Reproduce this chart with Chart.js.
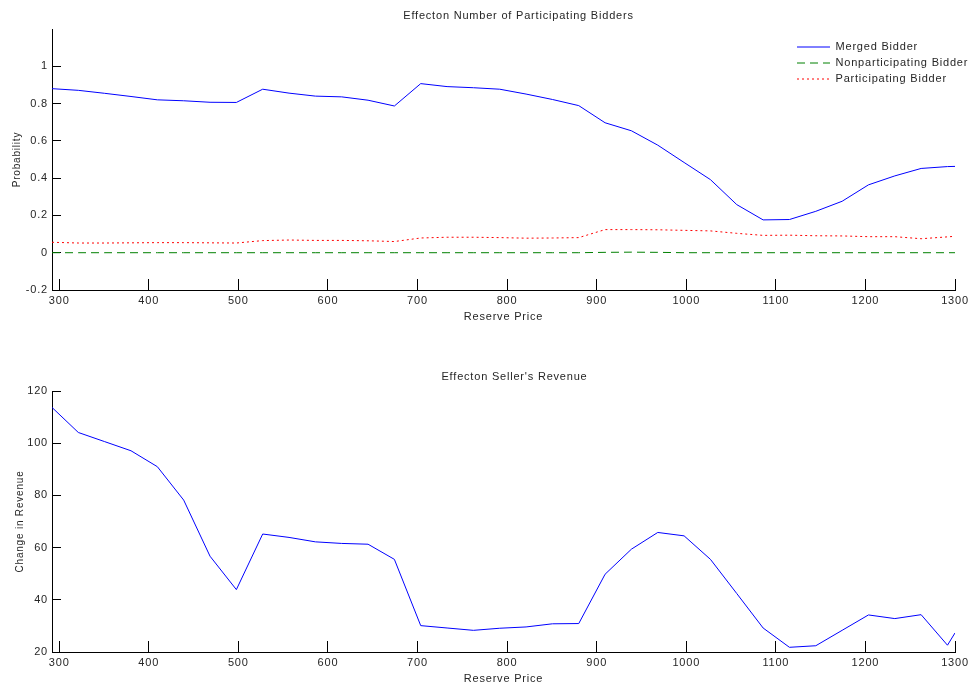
<!DOCTYPE html>
<html>
<head>
<meta charset="utf-8">
<script src="https://cdn.jsdelivr.net/npm/chart.js@4.4.1/dist/chart.umd.min.js"></script>
<style>
  html, body { margin: 0; padding: 0; background: #fff; }
  .panel { position: absolute; left: 0; width: 979px; height: 345px; }
  canvas { display: block; }
</style>
</head>
<body>
<div class="panel" style="top:0"><canvas id="bidders" width="979" height="345"></canvas></div>
<div class="panel" style="top:345px"><canvas id="revenue" width="979" height="345"></canvas></div>
<script>
// reserve prices where the model was evaluated
const reservePrice = [292, 321.4, 350.8, 380.2, 409.6, 439, 468.4, 497.8, 527.2, 556.6, 586, 615.4,
    644.8, 674.2, 703.6, 733, 762.4, 791.8, 821.2, 850.6, 880, 909.4, 938.8, 968.2, 997.6, 1027,
    1056.4, 1085.8, 1115.2, 1144.6, 1174, 1203.4, 1232.8, 1262.2, 1291.6, 1300];

const mergedBidder = [0.880, 0.871, 0.855, 0.838, 0.820, 0.815, 0.807, 0.806, 0.877, 0.856, 0.840, 0.836,
    0.818, 0.787, 0.907, 0.891, 0.885, 0.877, 0.851, 0.822, 0.789, 0.697, 0.654, 0.577, 0.484, 0.392,
    0.258, 0.176, 0.178, 0.222, 0.276, 0.364, 0.412, 0.452, 0.462, 0.463];

const nonparticipatingBidder = [0, 0, 0, 0, 0, 0, 0, 0, 0, 0, 0, 0,
    0, 0, 0, 0, 0, 0, 0, 0, 0, 0.002, 0.003, 0.002, 0, 0,
    0, 0, 0, 0, 0, 0, 0, 0, 0, 0];

const participatingBidder = [0.056, 0.052, 0.052, 0.053, 0.054, 0.054, 0.053, 0.052, 0.065, 0.068, 0.066, 0.066,
    0.064, 0.060, 0.079, 0.083, 0.083, 0.081, 0.078, 0.079, 0.081, 0.124, 0.124, 0.123, 0.120, 0.117,
    0.104, 0.093, 0.094, 0.091, 0.090, 0.086, 0.086, 0.075, 0.085, 0.088];

const revenueChange = [113.7, 104.1, 100.6, 97.1, 91.0, 78.2, 56.7, 43.9, 65.2, 63.9, 62.2, 61.6,
    61.3, 55.5, 30.1, 29.2, 28.3, 29.1, 29.6, 30.8, 30.9, 49.8, 59.4, 65.8, 64.5, 55.5,
    42.4, 29.2, 21.8, 22.4, 28.3, 34.2, 32.8, 34.3, 22.6, 27.3];

const priceTicks = [300, 400, 500, 600, 700, 800, 900, 1000, 1100, 1200, 1300];
const probTicks = [-0.2, 0, 0.2, 0.4, 0.6, 0.8, 1];
const revenueTicks = [20, 40, 60, 80, 100, 120];

const family = '"Liberation Sans", Arial, sans-serif';
const textColor = '#262626';
Chart.defaults.font.family = family;

const toPoints = ys => ys.map((y, i) => ({ x: reservePrice[i], y: y }));

// matlab-ish spaced out lettering
const spacing = {
    id: 'spacing',
    beforeLayout(chart) { chart.ctx.letterSpacing = '0.8px'; },
    beforeDraw(chart) { chart.ctx.letterSpacing = '0.8px'; }
};

// nudge title and legend after chart.js did its layout
const placement = {
    id: 'placement',
    afterLayout(chart, args, opts) {
        if (opts.titleShift) {
            chart.titleBlock.left += opts.titleShift;
            chart.titleBlock.right += opts.titleShift;
        }
        if (chart.legend && opts.legendLeft !== undefined) {
            const lg = chart.legend;
            const w = lg.width, h = lg.height;
            lg.left = opts.legendLeft;
            lg.right = lg.left + w;
            lg.top = opts.legendTop;
            lg.bottom = lg.top + h;
        }
    }
};

function buildOptions(cfg) {
    return {
        responsive: false,
        animation: false,
        layout: { padding: { left: 0, right: 24, top: 0, bottom: 0 } },
        plugins: {
            title: {
                display: true,
                text: cfg.title,
                color: textColor,
                fullSize: false,
                font: { size: 11, weight: 'normal' },
                padding: cfg.titlePadding
            },
            legend: cfg.legend || { display: false },
            tooltip: { enabled: false },
            placement: cfg.placement
        },
        scales: {
            x: {
                type: 'linear',
                min: 292,
                max: 1300,
                afterBuildTicks: s => { s.ticks = priceTicks.map(v => ({ value: v })); },
                afterFit: s => {
                    s.height = cfg.xHeight;
                    // labels fit inside the layout padding already
                    s.paddingLeft = 0;
                    s.paddingRight = 0;
                },
                grid: { drawOnChartArea: false, color: '#000', tickLength: -11 },
                border: { color: '#000', width: 1 },
                ticks: {
                    color: textColor, font: { size: 11 }, padding: cfg.xTickPad,
                    maxRotation: 0, autoSkip: false, callback: v => String(v)
                },
                title: {
                    display: true, text: 'Reserve Price', color: textColor,
                    font: { size: 11 }, padding: { top: 0, bottom: cfg.xTitlePad }
                }
            },
            y: {
                min: cfg.yMin,
                max: cfg.yMax,
                afterBuildTicks: s => { s.ticks = cfg.yTicks.map(v => ({ value: v })); },
                afterFit: s => { s.width = 52; },
                grid: { drawOnChartArea: false, color: '#000', tickLength: -9 },
                border: { color: '#000', width: 1 },
                ticks: { color: textColor, font: { size: 11 }, padding: 13, callback: v => String(v) },
                title: {
                    display: true, text: cfg.yTitle, color: textColor,
                    font: { size: 10 }, padding: { top: cfg.yTitlePad, bottom: 0 }
                }
            }
        }
    };
}

const lineBase = { borderWidth: 1, pointRadius: 0, tension: 0, fill: false };

new Chart(document.getElementById('bidders'), {
    type: 'line',
    data: {
        datasets: [
            Object.assign({ label: 'Merged Bidder', data: toPoints(mergedBidder), borderColor: '#0000ff' }, lineBase),
            Object.assign({ label: 'Nonparticipating Bidder', data: toPoints(nonparticipatingBidder), borderColor: '#008000', borderDash: [8, 5] }, lineBase),
            Object.assign({ label: 'Participating Bidder', data: toPoints(participatingBidder), borderColor: '#ff0000', borderDash: [2, 3] }, lineBase)
        ]
    },
    options: buildOptions({
        title: 'Effecton Number of Participating Bidders',
        titlePadding: { top: 9, bottom: 6.8 },
        xHeight: 55, xTickPad: 15, xTitlePad: 21.4,
        yMin: -0.2, yMax: 1.2, yTicks: probTicks, yTitle: 'Probability', yTitlePad: 11,
        placement: { titleShift: 15, legendLeft: 792, legendTop: 36.5 },
        legend: {
            display: true,
            position: 'chartArea',
            align: 'start',
            labels: {
                usePointStyle: true,
                pointStyle: 'line',
                pointStyleWidth: 33,
                padding: 5,
                color: textColor,
                font: { size: 11 },
                // keep the dataset dash pattern in the legend swatch
                generateLabels: chart => Chart.defaults.plugins.legend.labels.generateLabels(chart).map(item => {
                    const ds = chart.data.datasets[item.datasetIndex];
                    item.lineDash = ds.borderDash || [];
                    item.strokeStyle = ds.borderColor;
                    item.lineWidth = 1;
                    return item;
                })
            }
        }
    }),
    plugins: [spacing, placement]
});

new Chart(document.getElementById('revenue'), {
    type: 'line',
    data: {
        datasets: [
            Object.assign({ label: 'Change in Revenue', data: toPoints(revenueChange), borderColor: '#0000ff' }, lineBase)
        ]
    },
    options: buildOptions({
        title: "Effecton Seller's Revenue",
        titlePadding: { top: 25.1, bottom: 7.7 },
        xHeight: 38, xTickPad: 15.6, xTitlePad: 4.2,
        yMin: 20, yMax: 120, yTicks: revenueTicks, yTitle: 'Change in Revenue', yTitlePad: 14.5,
        placement: { titleShift: 11 }
    }),
    plugins: [spacing, placement]
});
</script>
</body>
</html>
